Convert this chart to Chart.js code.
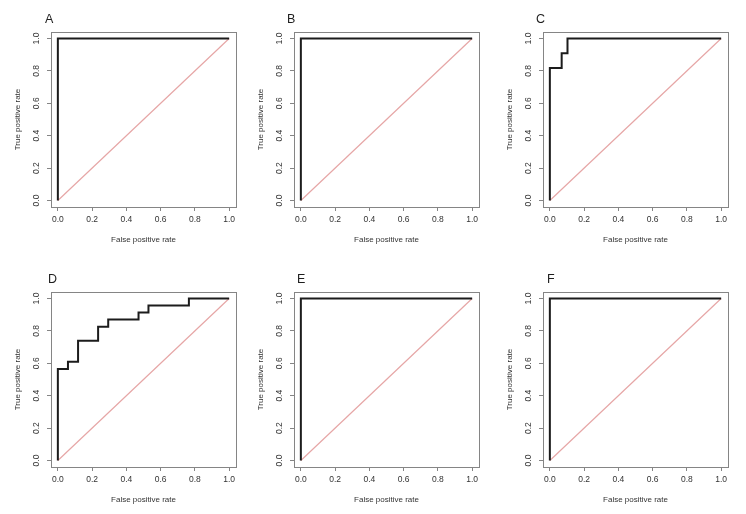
<!DOCTYPE html>
<html>
<head>
<meta charset="utf-8">
<script src="https://cdn.jsdelivr.net/npm/chart.js@4.4.1/dist/chart.umd.min.js"></script>
<style>
    body { margin: 0; background: #fff; width: 746px; height: 514px; position: relative; overflow: hidden; }
    canvas { position: absolute; }
</style>
</head>
<body>
<canvas id="rocA" width="245" height="254" style="left:0px;top:0px"></canvas>
<canvas id="rocB" width="245" height="254" style="left:243px;top:0px"></canvas>
<canvas id="rocC" width="245" height="254" style="left:492px;top:0px"></canvas>
<canvas id="rocD" width="245" height="254" style="left:0px;top:260px"></canvas>
<canvas id="rocE" width="245" height="254" style="left:243px;top:260px"></canvas>
<canvas id="rocF" width="245" height="254" style="left:492px;top:260px"></canvas>
<script>
// ROC curves (false positive rate / true positive rate) per panel
const fprA = [0, 0, 1];
const tprA = [0, 1, 1];
const fprB = [0, 0, 1];
const tprB = [0, 1, 1];
const fprC = [0, 0, 0.069, 0.103, 1];
const tprC = [0, 0.818, 0.909, 1, 1];
const fprD = [0, 0, 0.059, 0.118, 0.235, 0.294, 0.471, 0.529, 0.765, 1];
const tprD = [0, 0.565, 0.609, 0.739, 0.826, 0.870, 0.913, 0.957, 1, 1];
const fprE = [0, 0, 1];
const tprE = [0, 1, 1];
const fprF = [0, 0, 1];
const tprF = [0, 1, 1];

// random classifier reference line
const chanceX = [0, 1];
const chanceY = [0, 1];

const axisTicks = [0, 0.2, 0.4, 0.6, 0.8, 1.0];

Chart.defaults.font.family = '"Liberation Sans", Arial, sans-serif';
Chart.defaults.color = '#333';

const frameColor = '#858585';

// R style box around the plot region, plus the panel letter
const boxPlugin = {
    id: 'plotBox',
    afterDraw(chart) {
        const ctx = chart.ctx;
        const a = chart.chartArea;
        ctx.save();
        ctx.strokeStyle = frameColor;
        ctx.lineWidth = 1;
        ctx.strokeRect(Math.round(a.left) + 0.5, Math.round(a.top) + 0.5, Math.round(a.width), Math.round(a.height));
        const opts = chart.options.plugins.plotBox;
        ctx.fillStyle = '#1e1e1e';
        ctx.font = '12.5px "Liberation Sans", Arial, sans-serif';
        ctx.textAlign = 'left';
        ctx.textBaseline = 'middle';
        ctx.fillText(opts.letter, a.left + opts.dx, a.top - 12);
        ctx.restore();
    }
};

function toPoints(xs, ys) {
    return xs.map((x, i) => ({ x: x, y: ys[i] }));
}

function setTicks(scale) {
    scale.ticks = axisTicks.map(v => ({ value: v }));
}

function makePanel(id, letter, fpr, tpr, dx) {
    const ctx = document.getElementById(id).getContext('2d');
    return new Chart(ctx, {
        type: 'line',
        data: {
            datasets: [{
                data: toPoints(fpr, tpr),
                borderColor: '#1c1c1c',
                borderWidth: 2,
                stepped: 'before',
                pointRadius: 0
            }, {
                data: toPoints(chanceX, chanceY),
                borderColor: '#e6a6a6',
                borderWidth: 1.2,
                pointRadius: 0
            }]
        },
        options: {
            responsive: false,
            animation: false,
            layout: {
                padding: { left: 0, right: 9, top: 32, bottom: 3 }
            },
            plugins: {
                legend: { display: false },
                tooltip: { enabled: false },
                plotBox: { letter: letter, dx: dx }
            },
            scales: {
                x: {
                    type: 'linear',
                    min: -0.04,
                    max: 1.04,
                    afterBuildTicks: setTicks,
                    afterFit: function(scale) { scale.height = 44; },
                    border: { display: false },
                    grid: {
                        drawOnChartArea: false,
                        drawTicks: true,
                        tickLength: 4,
                        tickColor: frameColor
                    },
                    ticks: {
                        font: { size: 8.5 },
                        padding: 4,
                        maxRotation: 0,
                        callback: function(value) { return value.toFixed(1); }
                    },
                    title: {
                        display: true,
                        text: 'False positive rate',
                        font: { size: 8 },
                        padding: { top: 6, bottom: 6 }
                    }
                },
                y: {
                    type: 'linear',
                    min: -0.04,
                    max: 1.04,
                    afterBuildTicks: setTicks,
                    afterFit: function(scale) { scale.width = 51; },
                    border: { display: false },
                    grid: {
                        drawOnChartArea: false,
                        drawTicks: true,
                        tickLength: 4,
                        tickColor: frameColor
                    },
                    ticks: {
                        font: { size: 8.5 },
                        padding: 4,
                        minRotation: 90,
                        maxRotation: 90,
                        crossAlign: 'center',
                        callback: function(value) { return value.toFixed(1); }
                    },
                    title: {
                        display: true,
                        text: 'True positive rate',
                        font: { size: 8 },
                        padding: { top: 13, bottom: 13 }
                    }
                }
            }
        },
        plugins: [boxPlugin]
    });
}

makePanel('rocA', 'A', fprA, tprA, -6);
makePanel('rocB', 'B', fprB, tprB, -7);
makePanel('rocC', 'C', fprC, tprC, -7);
makePanel('rocD', 'D', fprD, tprD, -3);
makePanel('rocE', 'E', fprE, tprE, 3);
makePanel('rocF', 'F', fprF, tprF, 4);
</script>
</body>
</html>
